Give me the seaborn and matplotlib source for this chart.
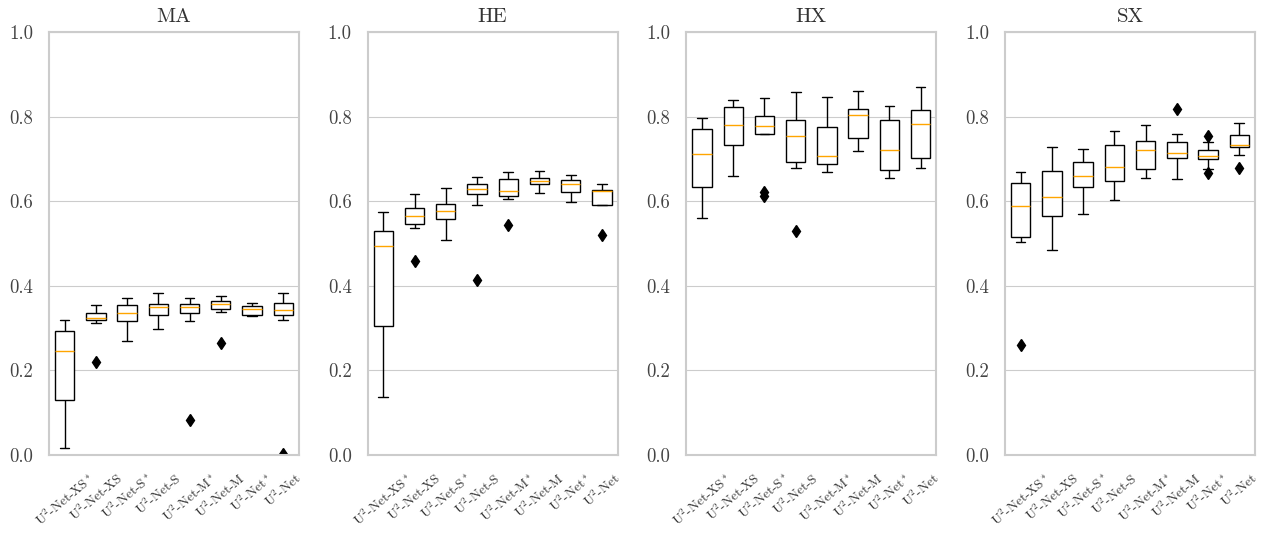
import pandas as pd
import numpy as np
import matplotlib
matplotlib.use('Agg')
import matplotlib.pyplot as plt
import seaborn as sns

# model names (x categories)
models = ['U$^2$-Net-XS$^*$', 'U$^2$-Net-XS', 'U$^2$-Net-S$^*$', 'U$^2$-Net-S',
          'U$^2$-Net-M$^*$', 'U$^2$-Net-M', 'U$^2$-Net$^*$', 'U$^2$-Net']
datasets = ['MA', 'HE', 'HX', 'SX']

# per-run scores, one list of runs per model, estimated from the figure
ma_scores = [
    [0.017, 0.075, 0.131, 0.190, 0.245, 0.270, 0.294, 0.306, 0.318],
    [0.221, 0.311, 0.320, 0.322, 0.325, 0.330, 0.336, 0.345, 0.355],
    [0.270, 0.295, 0.316, 0.326, 0.336, 0.345, 0.355, 0.362, 0.370],
    [0.298, 0.315, 0.331, 0.341, 0.350, 0.353, 0.356, 0.369, 0.382],
    [0.083, 0.316, 0.336, 0.344, 0.351, 0.354, 0.356, 0.364, 0.371],
    [0.265, 0.338, 0.344, 0.350, 0.356, 0.360, 0.364, 0.370, 0.377],
    [0.329, 0.329, 0.330, 0.338, 0.346, 0.350, 0.353, 0.356, 0.359],
    [0.003, 0.318, 0.330, 0.337, 0.343, 0.351, 0.359, 0.371, 0.383],
]
he_scores = [
    [0.137, 0.220, 0.306, 0.400, 0.494, 0.510, 0.529, 0.550, 0.574],
    [0.459, 0.537, 0.545, 0.555, 0.565, 0.575, 0.584, 0.600, 0.617],
    [0.509, 0.535, 0.559, 0.567, 0.576, 0.585, 0.594, 0.612, 0.631],
    [0.414, 0.592, 0.616, 0.622, 0.629, 0.634, 0.640, 0.648, 0.657],
    [0.543, 0.606, 0.613, 0.618, 0.624, 0.638, 0.652, 0.660, 0.668],
    [0.619, 0.630, 0.640, 0.644, 0.648, 0.652, 0.656, 0.663, 0.671],
    [0.597, 0.609, 0.621, 0.631, 0.641, 0.646, 0.650, 0.656, 0.662],
    [0.519, 0.592, 0.592, 0.607, 0.623, 0.624, 0.626, 0.633, 0.640],
]
hx_scores = [
    [0.561, 0.597, 0.633, 0.672, 0.711, 0.741, 0.771, 0.784, 0.796],
    [0.659, 0.697, 0.734, 0.757, 0.780, 0.802, 0.823, 0.831, 0.839],
    [0.612, 0.622, 0.759, 0.768, 0.778, 0.790, 0.801, 0.823, 0.844],
    [0.529, 0.678, 0.693, 0.723, 0.753, 0.772, 0.791, 0.825, 0.858],
    [0.670, 0.679, 0.688, 0.697, 0.706, 0.740, 0.775, 0.810, 0.846],
    [0.718, 0.733, 0.749, 0.776, 0.804, 0.811, 0.819, 0.840, 0.861],
    [0.655, 0.664, 0.673, 0.697, 0.720, 0.755, 0.791, 0.808, 0.825],
    [0.678, 0.689, 0.701, 0.741, 0.782, 0.799, 0.816, 0.842, 0.869],
]
sx_scores = [
    [0.260, 0.504, 0.516, 0.552, 0.588, 0.615, 0.642, 0.656, 0.670],
    [0.484, 0.525, 0.565, 0.588, 0.611, 0.642, 0.672, 0.699, 0.727],
    [0.569, 0.601, 0.634, 0.646, 0.659, 0.676, 0.693, 0.708, 0.723],
    [0.602, 0.625, 0.647, 0.664, 0.682, 0.708, 0.733, 0.750, 0.767],
    [0.654, 0.666, 0.677, 0.699, 0.721, 0.731, 0.742, 0.760, 0.779],
    [0.652, 0.676, 0.701, 0.708, 0.714, 0.727, 0.739, 0.760, 0.817],
    [0.667, 0.675, 0.700, 0.703, 0.706, 0.713, 0.720, 0.741, 0.753],
    [0.678, 0.710, 0.727, 0.731, 0.734, 0.745, 0.756, 0.770, 0.785],
]
all_scores = [ma_scores, he_scores, hx_scores, sx_scores]

sns.set_style('whitegrid')
plt.rcParams['font.family'] = ['cmr10', 'DejaVu Serif']
plt.rcParams['mathtext.fontset'] = 'cm'
plt.rcParams['axes.formatter.use_mathtext'] = True

fig, axes = plt.subplots(1, 4, figsize=(12.72, 5.33), dpi=100)
plt.subplots_adjust(left=0.0385, right=0.9866, top=0.94, bottom=0.1463, wspace=0.275)

for ax, name, scores in zip(axes, datasets, all_scores):
    rows = []
    for m, runs in zip(models, scores):
        for v in runs:
            rows.append({'model': m, 'score': v})
    df = pd.DataFrame(rows)
    sns.boxplot(data=df, x='model', y='score', ax=ax, order=models,
                color='white', linecolor='black', linewidth=1.0, width=0.62,
                medianprops={'color': 'orange', 'linewidth': 1.0},
                flierprops={'marker': 'd', 'markerfacecolor': 'black',
                            'markeredgecolor': 'black', 'markersize': 6})
    ax.set_ylim(0, 1)
    ax.set_xlim(-0.5, 7.5)
    ax.set_yticks(np.arange(0, 1.01, 0.2))
    ax.set_yticklabels(['%.1f' % t for t in np.arange(0, 1.01, 0.2)], fontsize=13.5, color='#444444')
    ax.set_title(name, fontsize=15, color='#333333', pad=7)
    ax.set_xlabel('')
    ax.set_ylabel('')
    ax.xaxis.grid(False)
    ax.tick_params(axis='x', labelsize=9.5, pad=8)
    ax.tick_params(axis='y', pad=8)
    for lab in ax.get_xticklabels():
        lab.set_rotation(40)
        lab.set_ha('center')
        lab.set_color('#333333')
    for s in ax.spines.values():
        s.set_color('#cccccc')
        s.set_linewidth(1.5)

plt.savefig('out.png', dpi=100)
